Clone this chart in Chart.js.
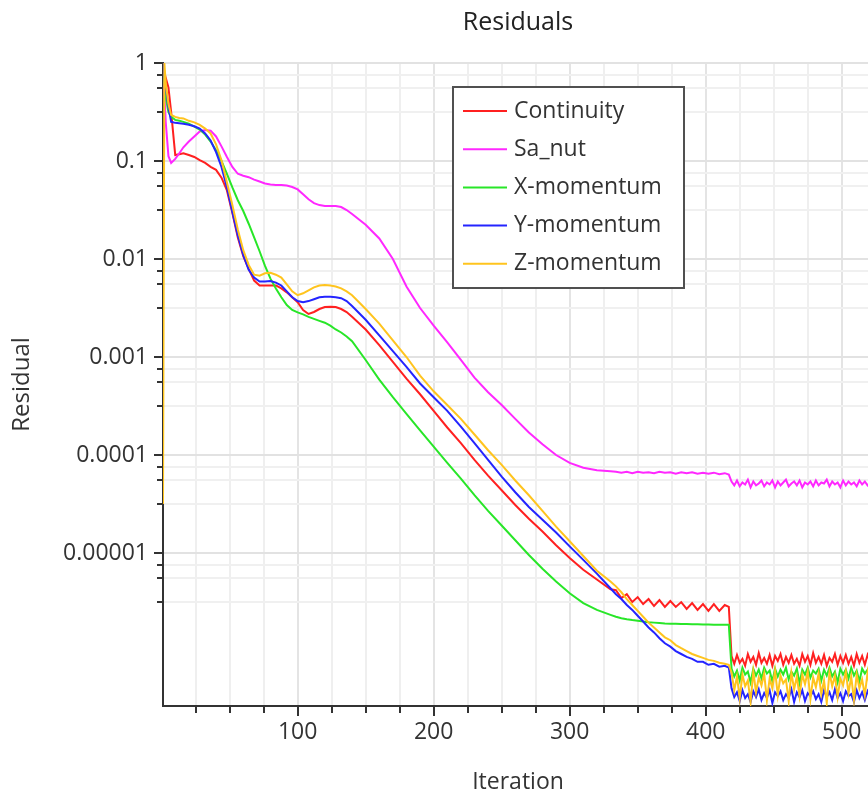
<!DOCTYPE html>
<html>
<head>
<meta charset="utf-8">
<script src="https://cdn.jsdelivr.net/npm/chart.js@4.4.1/dist/chart.umd.min.js"></script>
<style>
  html, body { margin: 0; padding: 0; overflow: hidden; background: #fff; }
  #wrap { width: 880px; height: 794px; }
</style>
</head>
<body>
<div id="wrap"><canvas id="c" width="880" height="794"></canvas></div>
<script>
// ---------- DATA ----------
const iterSmooth = [1,2,3,5,7,10,13,16,20,24,28,32,36,40,44,48,52,56,60,64,68,72,76,80,84,88,92,96,100,104,108,112,116,120,124,128,132,136,140,150,160,170,180,190,200,210,220,230,240,250,260,270,280,290,300,310,320,330];
const iterMid = [334,338,342,346,350,354,358,362,366,370,374,378,382,386,390,394,398,402,406,410,414,417];
const iterNoise = [419,421,423,425,427,429,431,433,435,437,439,441,443,445,447,449,451,453,455,457,459,461,463,465,467,469,471,473,475,477,479,481,483,485,487,489,491,493,495,497,499,501,503,505,507,509,511,513,515,517,519,521,523];

const contSmooth = [1,0.794,0.708,0.562,0.316,0.115,0.117,0.120,0.115,0.110,0.102,9.55e-2,8.71e-2,8.13e-2,6.76e-2,5.01e-2,2.95e-2,1.66e-2,1.07e-2,7.94e-3,6.03e-3,5.37e-3,5.37e-3,5.37e-3,5.37e-3,5.01e-3,4.57e-3,4.07e-3,3.63e-3,3.02e-3,2.75e-3,2.88e-3,3.09e-3,3.24e-3,3.26e-3,3.24e-3,3.09e-3,2.88e-3,2.57e-3,1.91e-3,1.32e-3,8.91e-4,6.03e-4,4.17e-4,2.82e-4,1.91e-4,1.32e-4,8.91e-5,6.17e-5,4.37e-5,3.09e-5,2.24e-5,1.66e-5,1.20e-5,8.91e-6,6.76e-6,5.37e-6,4.27e-6];
const contMid = [4.17e-6,3.47e-6,3.80e-6,3.16e-6,3.55e-6,3.02e-6,3.39e-6,2.88e-6,3.31e-6,2.82e-6,3.24e-6,2.82e-6,3.16e-6,2.69e-6,3.09e-6,2.63e-6,3.02e-6,2.57e-6,3.02e-6,2.57e-6,2.95e-6,2.82e-6];
const contNoise = [8.91e-7,7.41e-7,9.12e-7,7.59e-7,8.32e-7,7.08e-7,9.33e-7,7.76e-7,8.71e-7,7.24e-7,9.55e-7,7.59e-7,8.51e-7,7.41e-7,9.12e-7,7.08e-7,8.91e-7,7.94e-7,9.33e-7,7.24e-7,8.71e-7,7.59e-7,9.12e-7,7.41e-7,8.32e-7,7.08e-7,9.33e-7,7.76e-7,8.91e-7,7.24e-7,9.55e-7,7.59e-7,8.71e-7,7.41e-7,9.12e-7,7.08e-7,8.51e-7,7.76e-7,9.33e-7,7.24e-7,8.91e-7,7.59e-7,9.12e-7,7.41e-7,8.71e-7,7.08e-7,9.33e-7,7.59e-7,8.91e-7,7.24e-7,9.12e-7,7.76e-7,8.71e-7];

const saSmooth = [1,0.501,0.251,0.112,9.55e-2,0.105,0.120,0.138,0.158,0.178,0.200,0.207,0.204,0.178,0.141,0.110,8.71e-2,7.41e-2,7.08e-2,6.84e-2,6.46e-2,6.17e-2,5.89e-2,5.75e-2,5.69e-2,5.69e-2,5.62e-2,5.43e-2,5.13e-2,4.57e-2,4.07e-2,3.72e-2,3.55e-2,3.47e-2,3.47e-2,3.47e-2,3.39e-2,3.16e-2,2.88e-2,2.24e-2,1.62e-2,1.00e-2,5.25e-3,3.16e-3,2.09e-3,1.41e-3,9.33e-4,6.17e-4,4.37e-4,3.24e-4,2.34e-4,1.70e-4,1.29e-4,1.00e-4,8.32e-5,7.41e-5,7.00e-5,6.84e-5];
const saMid = [6.76e-5,6.61e-5,6.76e-5,6.53e-5,6.76e-5,6.61e-5,6.68e-5,6.53e-5,6.76e-5,6.61e-5,6.68e-5,6.46e-5,6.68e-5,6.53e-5,6.68e-5,6.46e-5,6.61e-5,6.46e-5,6.61e-5,6.38e-5,6.53e-5,6.31e-5];
const saNoise = [5.37e-5,4.90e-5,5.50e-5,4.79e-5,5.25e-5,5.01e-5,5.62e-5,4.68e-5,5.37e-5,4.90e-5,5.13e-5,5.50e-5,4.79e-5,5.25e-5,5.01e-5,5.50e-5,4.68e-5,5.37e-5,4.90e-5,5.25e-5,5.62e-5,4.79e-5,5.13e-5,5.37e-5,4.90e-5,5.50e-5,4.68e-5,5.25e-5,5.01e-5,5.37e-5,4.79e-5,5.50e-5,4.90e-5,5.25e-5,5.13e-5,5.62e-5,4.79e-5,5.37e-5,5.01e-5,5.25e-5,4.68e-5,5.50e-5,4.90e-5,5.37e-5,5.01e-5,5.25e-5,4.79e-5,5.50e-5,5.01e-5,5.37e-5,4.90e-5,5.25e-5,5.01e-5];

const xmSmooth = [1,0.631,0.447,0.316,0.282,0.263,0.257,0.251,0.240,0.224,0.209,0.186,0.158,0.129,0.100,7.41e-2,5.37e-2,3.98e-2,3.09e-2,2.29e-2,1.66e-2,1.20e-2,8.51e-3,6.31e-3,5.01e-3,4.07e-3,3.39e-3,3.02e-3,2.85e-3,2.72e-3,2.57e-3,2.45e-3,2.34e-3,2.24e-3,2.09e-3,1.91e-3,1.78e-3,1.62e-3,1.45e-3,9.33e-4,5.89e-4,3.89e-4,2.63e-4,1.78e-4,1.22e-4,8.32e-5,5.75e-5,3.89e-5,2.69e-5,1.91e-5,1.35e-5,9.55e-6,6.92e-6,5.13e-6,3.89e-6,3.09e-6,2.63e-6,2.34e-6];
const xmMid = [2.24e-6,2.16e-6,2.11e-6,2.07e-6,2.04e-6,2.00e-6,1.97e-6,1.95e-6,1.93e-6,1.91e-6,1.90e-6,1.90e-6,1.89e-6,1.89e-6,1.88e-6,1.88e-6,1.87e-6,1.87e-6,1.86e-6,1.86e-6,1.85e-6,1.85e-6];
const xmNoise = [6.61e-7,5.50e-7,6.31e-7,5.01e-7,6.76e-7,5.75e-7,6.17e-7,4.79e-7,6.61e-7,5.62e-7,6.46e-7,5.25e-7,6.76e-7,5.89e-7,6.31e-7,4.90e-7,6.61e-7,5.50e-7,6.46e-7,5.75e-7,6.76e-7,5.13e-7,6.17e-7,5.62e-7,6.61e-7,4.68e-7,6.46e-7,5.75e-7,6.76e-7,5.37e-7,6.31e-7,5.89e-7,6.61e-7,5.01e-7,6.46e-7,5.62e-7,6.76e-7,5.50e-7,6.17e-7,4.79e-7,6.61e-7,5.75e-7,6.46e-7,5.25e-7,6.76e-7,5.62e-7,6.31e-7,4.90e-7,6.61e-7,5.89e-7,6.46e-7,5.37e-7,6.61e-7];

const ymSmooth = [1,0.708,0.562,0.355,0.251,0.245,0.243,0.240,0.234,0.226,0.214,0.191,0.162,0.123,8.71e-2,5.37e-2,3.02e-2,1.74e-2,1.10e-2,7.76e-3,6.46e-3,5.89e-3,5.89e-3,5.96e-3,5.75e-3,5.37e-3,4.68e-3,4.07e-3,3.72e-3,3.63e-3,3.72e-3,3.89e-3,4.07e-3,4.12e-3,4.12e-3,4.07e-3,3.98e-3,3.72e-3,3.31e-3,2.40e-3,1.66e-3,1.15e-3,7.94e-4,5.37e-4,3.89e-4,2.82e-4,1.95e-4,1.32e-4,8.91e-5,6.03e-5,4.17e-5,2.95e-5,2.19e-5,1.62e-5,1.17e-5,8.51e-6,6.17e-6,4.37e-6];
const ymMid = [3.80e-6,3.39e-6,2.95e-6,2.63e-6,2.29e-6,2.00e-6,1.74e-6,1.55e-6,1.35e-6,1.20e-6,1.11e-6,1.00e-6,9.33e-7,8.71e-7,8.32e-7,7.76e-7,7.76e-7,7.24e-7,7.41e-7,6.92e-7,7.08e-7,6.76e-7];
const ymNoise = [4.17e-7,3.39e-7,3.80e-7,3.09e-7,3.98e-7,3.31e-7,3.63e-7,3.02e-7,3.89e-7,3.39e-7,4.07e-7,3.16e-7,3.72e-7,3.31e-7,3.98e-7,2.95e-7,3.80e-7,3.47e-7,3.89e-7,3.16e-7,3.63e-7,3.31e-7,4.07e-7,3.02e-7,3.80e-7,3.39e-7,3.98e-7,3.09e-7,3.72e-7,3.47e-7,3.89e-7,3.24e-7,3.63e-7,3.02e-7,3.98e-7,3.39e-7,3.80e-7,3.16e-7,4.07e-7,3.31e-7,3.72e-7,3.09e-7,3.89e-7,3.47e-7,3.63e-7,3.02e-7,3.98e-7,3.31e-7,3.80e-7,3.16e-7,3.89e-7,3.39e-7,3.72e-7];

const zmSmooth = [3.16e-5,1,0.631,0.380,0.295,0.282,0.275,0.272,0.257,0.248,0.234,0.214,0.191,0.148,0.102,6.03e-2,3.55e-2,2.00e-2,1.23e-2,8.71e-3,6.92e-3,6.76e-3,7.16e-3,7.24e-3,6.92e-3,6.46e-3,5.50e-3,4.68e-3,4.27e-3,4.47e-3,4.79e-3,5.13e-3,5.37e-3,5.43e-3,5.37e-3,5.25e-3,5.01e-3,4.68e-3,4.27e-3,3.09e-3,2.19e-3,1.48e-3,1.00e-3,6.46e-4,4.47e-4,3.24e-4,2.34e-4,1.62e-4,1.12e-4,7.94e-5,5.50e-5,3.89e-5,2.69e-5,1.86e-5,1.32e-5,9.33e-6,6.61e-6,5.13e-6];
const zmMid = [4.57e-6,3.98e-6,3.39e-6,2.95e-6,2.57e-6,2.24e-6,1.95e-6,1.74e-6,1.55e-6,1.38e-6,1.29e-6,1.15e-6,1.07e-6,1.00e-6,9.33e-7,8.91e-7,8.51e-7,8.13e-7,7.94e-7,7.59e-7,7.41e-7,7.24e-7];
const zmNoise = [6.03e-7,3.98e-7,5.50e-7,3.31e-7,5.75e-7,4.37e-7,5.01e-7,3.02e-7,6.17e-7,3.80e-7,5.37e-7,4.47e-7,5.89e-7,3.16e-7,5.25e-7,4.17e-7,6.31e-7,3.55e-7,5.62e-7,4.68e-7,5.13e-7,3.09e-7,6.03e-7,4.07e-7,5.50e-7,3.47e-7,5.75e-7,4.57e-7,6.17e-7,3.24e-7,5.37e-7,4.27e-7,5.89e-7,3.63e-7,5.01e-7,2.95e-7,6.03e-7,4.37e-7,5.62e-7,3.39e-7,5.25e-7,4.47e-7,6.17e-7,3.72e-7,5.50e-7,3.16e-7,5.75e-7,4.17e-7,5.13e-7,3.55e-7,6.03e-7,3.98e-7,5.37e-7];

const seriesNames = ['Continuity','Sa_nut','X-momentum','Y-momentum','Z-momentum'];

// axis ticks
const yMajorTicks = [1, 0.1, 0.01, 0.001, 0.0001, 0.00001];
const yMajorLabels = ['1', '0.1', '0.01', '0.001', '0.0001', '0.00001'];
const yMinorTicks = [0.75,0.562,0.316, 0.075,0.0562,0.0316, 0.0075,0.00562,0.00316, 0.00075,0.000562,0.000316, 0.000075,0.0000562,0.0000316, 0.0000075,0.00000562,0.00000316];
const xMajorTicks = [100, 200, 300, 400, 500];
const xMajorLabels = ['100', '200', '300', '400', '500'];
const xMinorTicks = [25,50,75,125,150,175,225,250,275,325,350,375,425,450,475];

// ---------- CHART ----------
const iterAll = iterSmooth.concat(iterMid, iterNoise);
function pts(a, b, c) {
  const v = a.concat(b, c);
  return iterAll.map((it, i) => ({x: it, y: v[i]}));
}
const colors = ['rgb(255,32,32)','rgb(255,40,255)','rgb(40,230,40)','rgb(36,36,255)','rgb(255,196,30)'];
const seriesData = [
  pts(contSmooth, contMid, contNoise),
  pts(saSmooth, saMid, saNoise),
  pts(xmSmooth, xmMid, xmNoise),
  pts(ymSmooth, ymMid, ymNoise),
  pts(zmSmooth, zmMid, zmNoise)
];
const datasets = seriesNames.map((n, i) => ({
  label: n, data: seriesData[i], borderColor: colors[i], backgroundColor: colors[i],
  borderWidth: 2, pointRadius: 0, tension: 0, fill: false, order: 4 - i
}));

const FONT = "'Open Sans', 'Noto Sans', sans-serif";
Chart.defaults.font.family = FONT;
Chart.defaults.color = '#333';

const axisMarks = {
  id: 'axisMarks',
  afterDraw(chart) {
    const {ctx, chartArea, scales} = chart;
    ctx.save();
    ctx.strokeStyle = '#333';
    ctx.lineWidth = 2;
    scales.y.ticks.forEach(t => {
      const py = Math.round(scales.y.getPixelForValue(t.value));
      const len = yMajorTicks.includes(t.value) ? 9 : 6;
      ctx.beginPath(); ctx.moveTo(chartArea.left - len, py); ctx.lineTo(chartArea.left, py); ctx.stroke();
    });
    scales.x.ticks.forEach(t => {
      const px = Math.round(scales.x.getPixelForValue(t.value));
      const len = xMajorTicks.includes(t.value) ? 10 : 7;
      ctx.beginPath(); ctx.moveTo(px, chartArea.bottom); ctx.lineTo(px, chartArea.bottom + len); ctx.stroke();
    });
    ctx.restore();
  }
};

const boxLegend = {
  id: 'boxLegend',
  afterDatasetsDraw(chart) {
    const {ctx} = chart;
    const x0 = 453, y0 = 87, w = 231, h = 201;
    ctx.save();
    ctx.fillStyle = '#fff';
    ctx.fillRect(x0, y0, w, h);
    ctx.strokeStyle = '#505050';
    ctx.lineWidth = 2;
    ctx.strokeRect(x0, y0, w, h);
    ctx.font = "23px " + FONT;
    ctx.textBaseline = 'middle';
    ctx.textAlign = 'left';
    chart.data.datasets.forEach((ds, i) => {
      const cy = 111 + i * 38.2;
      ctx.strokeStyle = ds.borderColor;
      ctx.lineWidth = 2;
      ctx.beginPath(); ctx.moveTo(463, cy); ctx.lineTo(507, cy); ctx.stroke();
      ctx.fillStyle = '#333';
      ctx.fillText(ds.label, 514, cy);
    });
    ctx.restore();
  }
};

new Chart(document.getElementById('c'), {
  type: 'line',
  data: { datasets },
  options: {
    responsive: false,
    animation: false,
    devicePixelRatio: 1,
    layout: { padding: { left: 0, right: 7, top: 0, bottom: 0 } },
    plugins: {
      legend: { display: false },
      tooltip: { enabled: false },
      title: {
        display: true, text: 'Residuals', fullSize: false, color: '#222',
        font: { size: 25, weight: 'normal', lineHeight: 1 },
        padding: { top: 10, bottom: 28 }
      }
    },
    scales: {
      x: {
        type: 'linear', min: 1, max: 523, bounds: 'data',
        afterFit(s) { s.height = 88; },
        afterBuildTicks(s) {
          s.ticks = xMinorTicks.concat(xMajorTicks).sort((a, b) => a - b).map(v => ({value: v}));
        },
        ticks: {
          autoSkip: false, maxRotation: 0, padding: 13, font: { size: 23 }, color: '#333',
          callback(v) { const i = xMajorTicks.indexOf(v); return i >= 0 ? xMajorLabels[i] : ''; }
        },
        grid: {
          drawTicks: false,
          color: c => (c.tick && xMajorTicks.includes(c.tick.value)) ? '#e4e4e4' : '#efefef',
          lineWidth: 2
        },
        border: { display: true, color: '#333', width: 2 },
        title: { display: true, text: 'Iteration', color: '#333', font: { size: 23, lineHeight: 1 }, padding: { top: 0, bottom: 0 } }
      },
      y: {
        type: 'logarithmic', min: 2.75e-7, max: 1, bounds: 'data',
        afterFit(s) { s.width = 163; },
        afterBuildTicks(s) {
          s.ticks = yMajorTicks.concat(yMinorTicks).sort((a, b) => b - a).map(v => ({value: v}));
        },
        ticks: {
          autoSkip: false, padding: 15, font: { size: 23 }, color: '#333',
          callback(v) { const i = yMajorTicks.indexOf(v); return i >= 0 ? yMajorLabels[i] : ''; }
        },
        grid: {
          drawTicks: false,
          color: c => (c.tick && yMajorTicks.includes(c.tick.value)) ? '#e2e2e2' : '#f0f0f0',
          lineWidth: 2
        },
        border: { display: true, color: '#333', width: 2 },
        title: { display: true, text: 'Residual', color: '#333', font: { size: 24, lineHeight: 1 }, padding: { top: 10, bottom: 0 } }
      }
    }
  },
  plugins: [boxLegend, axisMarks]
});
</script>
</body>
</html>
